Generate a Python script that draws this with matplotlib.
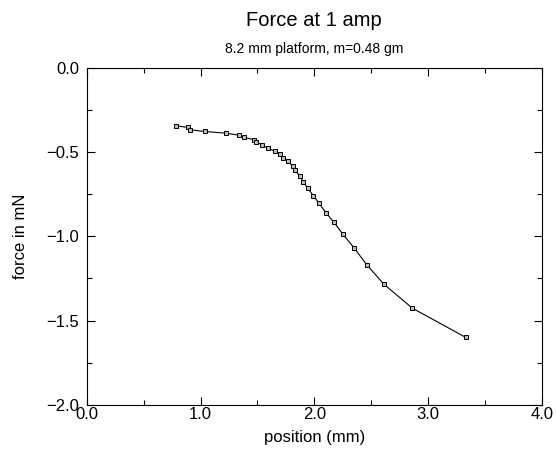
import matplotlib

matplotlib.use("Agg")
import matplotlib.pyplot as plt
from matplotlib.ticker import MultipleLocator

plt.rcParams["font.family"] = ["Liberation Sans", "DejaVu Sans"]

# position (mm) vs force (mN)
position = [0.78, 0.89, 0.91, 1.04, 1.22, 1.34, 1.38, 1.47, 1.49, 1.54,
            1.59, 1.65, 1.70, 1.72, 1.77, 1.81, 1.83, 1.87, 1.90, 1.94,
            1.99, 2.04, 2.10, 2.17, 2.25, 2.35, 2.46, 2.61, 2.86, 3.33]
force = [-0.344, -0.354, -0.368, -0.378, -0.388, -0.400, -0.413, -0.427, -0.441, -0.457,
         -0.477, -0.494, -0.512, -0.534, -0.556, -0.583, -0.609, -0.641, -0.675, -0.714,
         -0.758, -0.803, -0.859, -0.916, -0.987, -1.070, -1.169, -1.284, -1.426, -1.600]

title = "Force at 1 amp"
subtitle = "8.2 mm platform, m=0.48 gm"

fig = plt.figure(figsize=(5.56, 4.58), dpi=100)
ax = fig.add_axes([0.156, 0.116, 0.819, 0.736])

ax.plot(position, force, color="black", linewidth=0.8,
        marker="s", markersize=3.4, markerfacecolor="#bbbbbb",
        markeredgecolor="black", markeredgewidth=0.7)

ax.set_xlim(0, 4)
ax.set_ylim(-2, 0)
ax.xaxis.set_major_locator(MultipleLocator(1.0))
ax.xaxis.set_minor_locator(MultipleLocator(0.5))
ax.yaxis.set_major_locator(MultipleLocator(0.5))
ax.yaxis.set_minor_locator(MultipleLocator(0.25))
ax.xaxis.set_major_formatter(lambda v, p: f"{v:.1f}".replace("-", "\u2212"))
ax.yaxis.set_major_formatter(lambda v, p: f"{v:.1f}".replace("-", "\u2212"))

ax.tick_params(which="both", direction="in", top=True, right=True, width=0.8)
ax.tick_params(which="major", length=6)
ax.tick_params(which="minor", length=3.5)
ax.tick_params(axis="x", which="major", labelsize=12, pad=1.5)
ax.tick_params(axis="y", which="major", labelsize=12, pad=5.5)
for s in ax.spines.values():
    s.set_linewidth(0.8)

ax.set_xlabel("position (mm)", fontsize=12, labelpad=6)
ax.set_ylabel("force in mN", fontsize=12, labelpad=13)

fig.text(0.565, 0.955, title, ha="center", va="center", fontsize=14.5)
fig.text(0.565, 0.893, subtitle, ha="center", va="center", fontsize=10)

fig.savefig("out.png", dpi=100)
